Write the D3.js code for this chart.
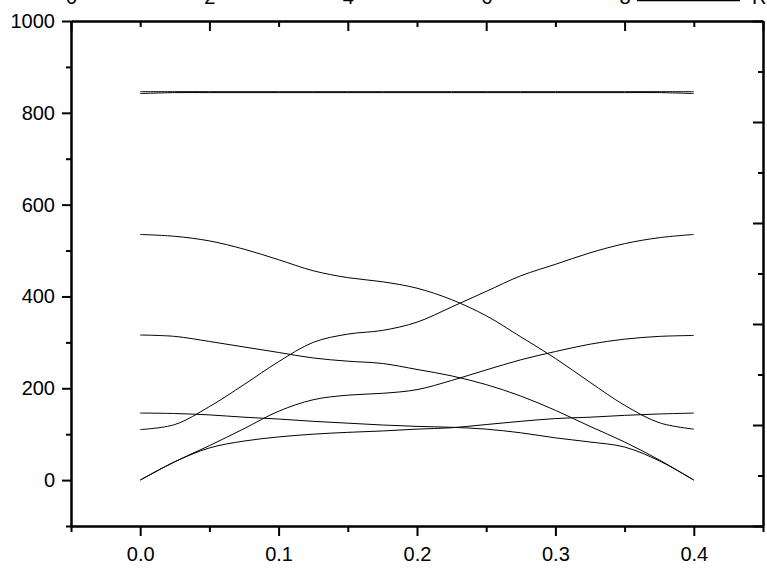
<!DOCTYPE html>
<html>
<head>
<meta charset="utf-8">
<script src="https://cdn.jsdelivr.net/npm/d3@7"></script>
<style>
  html, body { margin: 0; padding: 0; background: #fff; }
  svg { display: block; }
  text { font-family: "Liberation Sans", Arial, sans-serif; }
</style>
</head>
<body>
<svg id="chart" width="767" height="573"></svg>
<script>
// ---- data ----
const kPoints = [0, 0.025, 0.05, 0.075, 0.1, 0.125, 0.15, 0.175, 0.2, 0.225, 0.25, 0.275, 0.3, 0.325, 0.35, 0.375, 0.4];

const bandT1 = [846, 846, 846, 846, 846, 846, 846, 846, 846, 846, 846, 846, 846, 846, 846, 846, 846];
const bandT2 = [842, 844, 844, 844, 844, 844, 844, 844, 844, 844, 844, 844, 844, 844, 844, 844, 842];
const bandD1 = [535, 531, 521, 503, 480, 456, 441, 432, 418, 393, 358, 312, 265, 213, 163, 125, 111];
const bandR1 = [110, 121, 160, 208, 258, 300, 318, 326, 344, 377, 411, 445, 470, 495, 515, 528, 535];
const bandD2 = [316, 313, 302, 290, 278, 266, 259, 254, 241, 227, 208, 183, 152, 117, 83, 44, 0];
const bandR2 = [0, 40, 75, 112, 150, 175, 185, 189, 197, 217, 240, 262, 280, 296, 307, 313, 315];
const bandF1 = [146, 145, 142, 137, 133, 128, 124, 120, 117, 115, 111, 103, 92, 83, 72, 42, 0];
const bandL3 = [0, 40, 70, 85, 94, 100, 104, 107, 111, 114, 121, 128, 134, 137, 141, 144, 146];

const bands = [bandT1, bandT2, bandD1, bandR1, bandD2, bandR2, bandF1, bandL3];

const xMajorTicks = [0.0, 0.1, 0.2, 0.3, 0.4];
const xMinorTicks = [-0.05, 0.05, 0.15, 0.25, 0.35, 0.45];
const yMajorTicks = [0, 200, 400, 600, 800, 1000];
const yMinorTicks = [-100, 100, 300, 500, 700, 900];
const topMajorTicks = [0, 2, 4, 6, 8, 10];
const topLabelTicks = [0, 2, 4, 6, 8];
const topMinorTicks = [1, 3, 5, 7, 9];
const rightMajorTicks = [0, 1, 2, 3, 4, 5];
const rightMinorTicks = [0.5, 1.5, 2.5, 3.5, 4.5];
const legendLabel = "R";

// ---- layout ----
const L = 71, R = 763, T = 21, B = 526;
const svg = d3.select("#chart");

const x = d3.scaleLinear().domain([-0.05, 0.45]).range([L, R]);
const y = d3.scaleLinear().domain([-100, 1000]).range([B, T]);
const xTop = d3.scaleLinear().domain([0, 10]).range([L, R]);
const yRight = d3.scaleLinear().domain([0, 5]).range([B, T]);

function styleAxis(g) {
  g.selectAll("path.domain").attr("stroke", "#000").attr("stroke-width", 2);
  g.selectAll(".tick line").attr("stroke", "#000").attr("stroke-width", 2);
  g.selectAll(".tick text").attr("fill", "#000").attr("font-size", 20)
    .attr("font-family", '"Liberation Sans", Arial, sans-serif');
}

// curves
const line = d3.line()
  .x((d, i) => x(kPoints[i]))
  .y(d => y(d))
  .curve(d3.curveCatmullRom.alpha(0.5));

svg.append("g").selectAll("path")
  .data(bands)
  .join("path")
  .attr("d", d => line(d))
  .attr("fill", "none")
  .attr("stroke", "#000")
  .attr("stroke-width", 1);

// bottom axis
svg.append("g").attr("transform", `translate(0,${B})`)
  .call(d3.axisBottom(x).tickValues(xMinorTicks).tickSize(6).tickSizeOuter(0).tickFormat(""))
  .call(styleAxis);
svg.append("g").attr("transform", `translate(0,${B})`)
  .call(d3.axisBottom(x).tickValues(xMajorTicks).tickSize(10).tickSizeOuter(0).tickPadding(11).tickFormat(d3.format(".1f")))
  .call(styleAxis);

// left axis
svg.append("g").attr("transform", `translate(${L},0)`)
  .call(d3.axisLeft(y).tickValues(yMinorTicks).tickSize(5).tickSizeOuter(0).tickFormat(""))
  .call(styleAxis);
svg.append("g").attr("transform", `translate(${L},0)`)
  .call(d3.axisLeft(y).tickValues(yMajorTicks).tickSize(9).tickSizeOuter(0).tickPadding(7).tickFormat(d3.format("d")))
  .call(styleAxis);

// top axis (ticks inward)
svg.append("g").attr("transform", `translate(0,${T})`)
  .call(d3.axisTop(xTop).tickValues(topMinorTicks).tickSize(-6).tickSizeOuter(0).tickFormat(""))
  .call(styleAxis);
svg.append("g").attr("transform", `translate(0,${T})`)
  .call(d3.axisTop(xTop).tickValues(topMajorTicks).tickSize(-10).tickSizeOuter(0).tickFormat(""))
  .call(styleAxis);
svg.append("g").attr("transform", `translate(0,${T})`)
  .call(d3.axisTop(xTop).tickValues(topLabelTicks).tickSize(0).tickSizeOuter(0).tickPadding(17).tickFormat(d3.format("d")))
  .call(styleAxis)
  .call(g => g.select("path.domain").remove());

// right axis (ticks inward, no labels)
svg.append("g").attr("transform", `translate(${R},0)`)
  .call(d3.axisRight(yRight).tickValues(rightMinorTicks).tickSize(-5).tickSizeOuter(0).tickFormat(""))
  .call(styleAxis);
svg.append("g").attr("transform", `translate(${R},0)`)
  .call(d3.axisRight(yRight).tickValues(rightMajorTicks).tickSize(-10).tickSizeOuter(0).tickFormat(""))
  .call(styleAxis);

// legend (mostly outside the view, as in the reference)
svg.append("line")
  .attr("x1", 637).attr("x2", 740).attr("y1", 0.5).attr("y2", 0.5)
  .attr("stroke", "#000").attr("stroke-width", 1.5);
svg.append("text").attr("x", 752).attr("y", 4)
  .attr("font-size", 20).attr("fill", "#000").text(legendLabel);
</script>
</body>
</html>
